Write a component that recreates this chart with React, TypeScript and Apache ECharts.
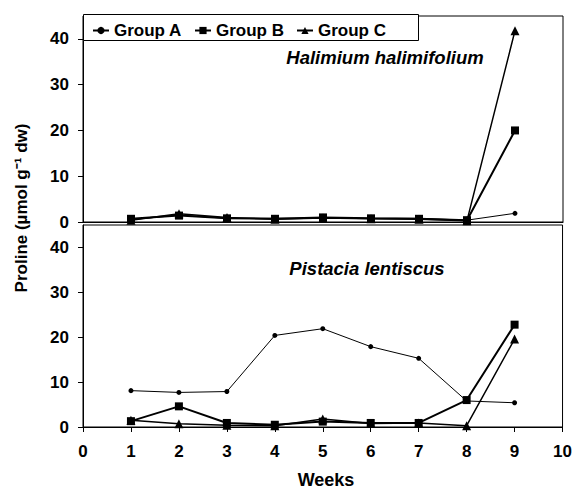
import React, { useEffect, useRef } from "react";
import * as echarts from "echarts";

const weeks = [1, 2, 3, 4, 5, 6, 7, 8, 9];
const seriesNames = ["Group A", "Group B", "Group C"];
const halA = [0.5, 1.5, 0.8, 0.8, 0.9, 0.8, 0.8, 0.4, 1.9];
const halB = [0.7, 1.4, 0.8, 0.7, 1.0, 0.8, 0.7, 0.4, 20];
const halC = [0.4, 1.8, 1.0, 0.6, 0.9, 0.7, 0.6, 0.3, 41.8];
const pisA = [8.1, 7.7, 7.9, 20.4, 21.9, 17.9, 15.3, 5.8, 5.4];
const pisB = [1.3, 4.6, 0.9, 0.5, 1.2, 0.9, 0.9, 6.0, 22.8];
const pisC = [1.5, 0.7, 0.4, 0.3, 1.8, 0.8, 0.9, 0.3, 19.6];
const xTicks = [0, 10];
const yTicks = [0, 45];
const panelTitles = ["Halimium halimifolium", "Pistacia lentiscus"];

const FONT = "'Liberation Sans', Arial, sans-serif";

const styles = [
  { symbol: "circle", symbolSize: 5, lineWidth: 1 },
  { symbol: "rect", symbolSize: 8, lineWidth: 2 },
  { symbol: "triangle", symbolSize: 9, lineWidth: 1.5 },
];

export default function App() {
  const ref = useRef<HTMLDivElement>(null);
  useEffect(() => {
    if (!ref.current) return;
    const chart = echarts.init(ref.current, undefined, { renderer: "svg" });
    const pair = (vals: number[]) => weeks.map((w, i) => [w, vals[i]]);
    const groups = [
      [halA, halB, halC],
      [pisA, pisB, pisC],
    ];
    const series: any[] = [];
    groups.forEach((g, gi) => {
      g.forEach((vals, si) => {
        series.push({
          name: seriesNames[si],
          type: "line",
          xAxisIndex: gi,
          yAxisIndex: gi,
          data: pair(vals),
          symbol: styles[si].symbol,
          symbolSize: styles[si].symbolSize,
          showAllSymbol: true,
          lineStyle: { color: "#000", width: styles[si].lineWidth },
          itemStyle: { color: "#000" },
          z: 3,
        });
      });
    });
    const xAxisBase = (gi: number) => ({
      type: "value",
      gridIndex: gi,
      min: xTicks[0],
      max: xTicks[1],
      interval: 1,
      splitLine: { show: false },
      axisLine: { lineStyle: { color: "#000", width: 1 } },
      axisTick: { show: gi === 1, length: 5, lineStyle: { color: "#000" } },
      axisLabel: {
        show: gi === 1,
        color: "#000",
        fontFamily: FONT,
        fontWeight: "bold",
        fontSize: 17,
        margin: 16,
      },
    });
    const yAxisBase = (gi: number) => ({
      type: "value",
      gridIndex: gi,
      min: yTicks[0],
      max: yTicks[1],
      interval: 10,
      splitLine: { show: false },
      axisLine: { show: true, lineStyle: { color: "#000", width: 1 } },
      axisTick: { show: true, length: 5, lineStyle: { color: "#000" } },
      axisLabel: {
        showMaxLabel: false,
        color: "#000",
        fontFamily: FONT,
        fontWeight: "bold",
        fontSize: 17,
        margin: 14,
      },
    });
    chart.setOption({
      animation: false,
      backgroundColor: "#fff",
      grid: [
        { left: 83, width: 480, top: 16, height: 206, show: true, borderColor: "#000", borderWidth: 1, backgroundColor: "transparent" },
        { left: 83, width: 480, top: 225, height: 202, show: true, borderColor: "#000", borderWidth: 1, backgroundColor: "transparent" },
      ],
      xAxis: [xAxisBase(0), xAxisBase(1)],
      yAxis: [yAxisBase(0), yAxisBase(1)],
      legend: {
        data: seriesNames,
        left: 87,
        top: 17,
        itemWidth: 16,
        itemHeight: 9,
        itemGap: 12,
        selectedMode: false,
        z: 20,
        textStyle: { color: "#000", fontFamily: FONT, fontWeight: "bold", fontSize: 17 },
      },
      graphic: [
        {
          type: "rect",
          z: 15,
          shape: { x: 83.5, y: 14.5, width: 335, height: 26 },
          style: { fill: "#fff", stroke: "#000", lineWidth: 1 },
        },
        {
          type: "text",
          x: 385,
          y: 57,
          style: { text: panelTitles[0], align: "center", verticalAlign: "middle", fill: "#000", font: `italic bold 18.5px ${FONT}` },
        },
        {
          type: "text",
          x: 367,
          y: 268,
          style: { text: panelTitles[1], align: "center", verticalAlign: "middle", fill: "#000", font: `italic bold 18.5px ${FONT}` },
        },
        {
          type: "text",
          x: 326,
          y: 480,
          style: { text: "Weeks", align: "center", verticalAlign: "middle", fill: "#000", font: `bold 18px ${FONT}` },
        },
        {
          type: "text",
          x: 21,
          y: 208,
          rotation: Math.PI / 2,
          style: { text: "Proline (µmol g⁻¹ dw)", align: "center", verticalAlign: "middle", fill: "#000", font: `bold 17px ${FONT}` },
        },
      ],
      series,
    });
    return () => chart.dispose();
  }, []);
  return <div ref={ref} style={{ position: "fixed", left: 0, top: 0, width: 575, height: 490 }} />;
}
